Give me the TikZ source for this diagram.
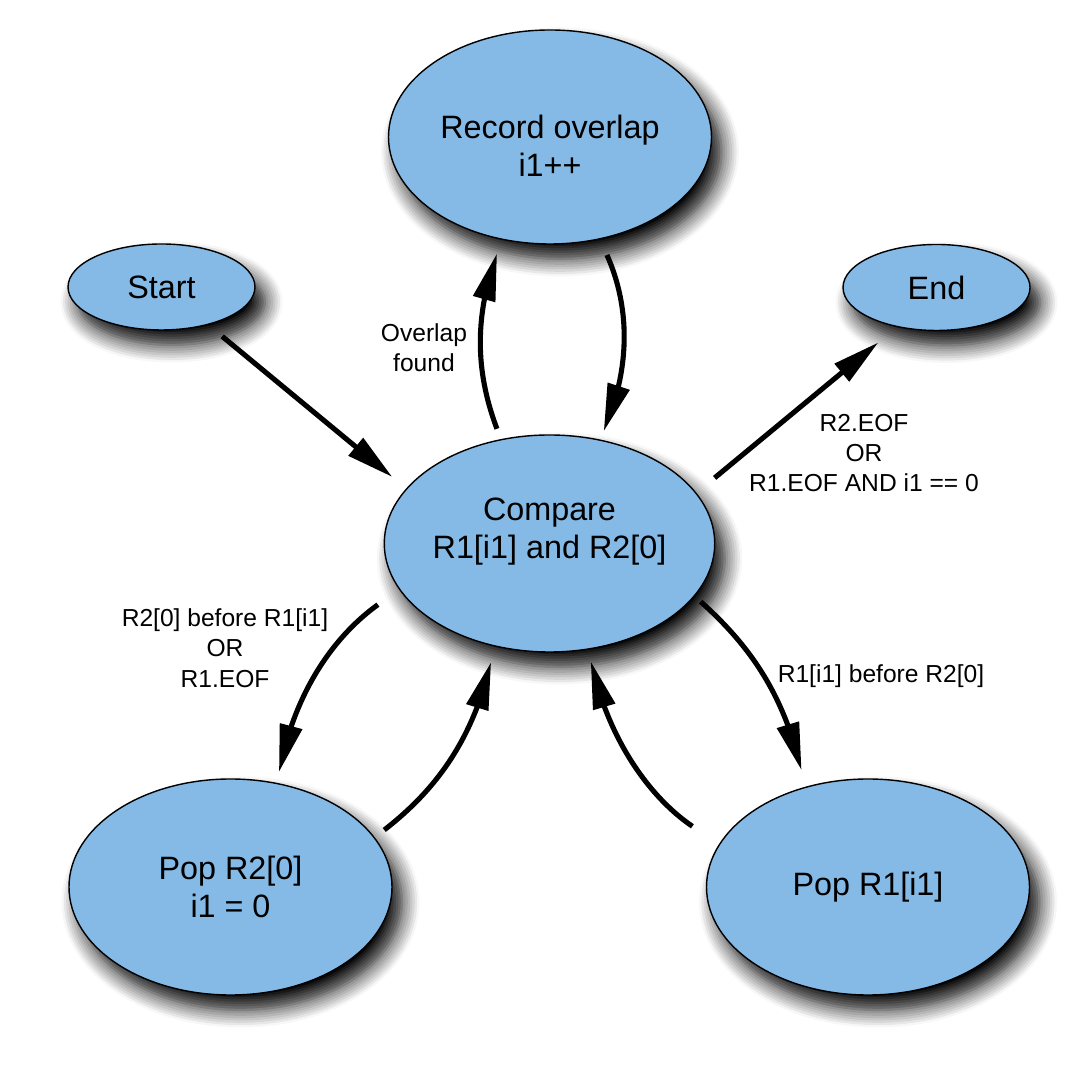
\documentclass[tikz,border=0pt]{standalone}
\usepackage{fontspec}
\setmainfont{Liberation Sans}
\usetikzlibrary{shapes.geometric,arrows.meta,bending,shadows.blur}
\definecolor{stateblue}{RGB}{132,186,229}

\begin{document}
\begin{tikzpicture}[
    state/.style={ellipse, draw=black, line width=0.8pt, fill=stateblue, inner sep=0pt,
        minimum width=6.46cm, minimum height=4.32cm, align=center,
        font=\fontsize{18.4}{21.6}\selectfont,
        blur shadow={shadow xshift=0.2cm, shadow yshift=-0.3cm, shadow blur radius=0.35cm,
            shadow blur steps=8, shadow opacity=100}},
    term/.style={state, minimum width=3.74cm, minimum height=1.72cm},
    cond/.style={align=center, font=\fontsize{14}{17.2}\selectfont},
    flow/.style={line width=2.9pt, -{Triangle[length=0.95cm, width=0.44cm]}}
]
    \useasboundingbox (0,0) rectangle (21.6,21.6);

    % states
    \node[state, minimum height=4.28cm] (rec) at (11.00,18.86) {\mbox{}\\[0.07cm]Record overlap\\i1++};
    \node[term] (start) at (3.23,15.86) {Start};
    \node[term] (end) at (18.73,15.85) {End};
    \node[state, minimum height=4.34cm] (cmp) at (10.99,10.73) {Compare\\R1[i1] and R2[0]\\[-0.14cm]\mbox{}};
    \node[state] (popb) at (4.61,3.86) {Pop R2[0]\\i1 = 0};
    \node[state] (popa) at (17.36,3.86) {Pop R1[i1]};

    % transitions
    \draw[flow, shorten <=0.36cm, shorten >=0.36cm] (start.-39) -- (cmp.159);
    \draw[flow, shorten <=0.22cm, shorten >=0.29cm] (cmp.115) to[bend left=21] (rec.-115);
    \draw[flow, shorten <=0.34cm, shorten >=0.18cm] (rec.-64) to[bend left=24] (cmp.64);
    \draw[flow, shorten <=0.47cm, shorten >=0.48cm] (cmp.19) -- (end.-135);
    \draw[flow, shorten <=0.52cm, shorten >=0.22cm] (cmp.-163) to[bend right=22] (popb.66);
    \draw[flow, shorten <=0.24cm, shorten >=0.32cm] (popb.19) to[bend right=20] (cmp.-118);
    \draw[flow, shorten <=0.16cm, shorten >=0.34cm] (cmp.-20) to[bend left=18] (popa.122);
    \draw[flow, shorten <=0.64cm, shorten >=0.24cm] (popa.164) to[bend left=22] (cmp.-70);

    % conditions
    \node[cond] (found) at (8.48,14.64) {Overlap\\found};
    \node[cond] (eof) at (17.28,12.54) {R2.EOF\\OR\\R1.EOF AND i1 == 0};
    \node[cond] (before2) at (4.50,8.64) {R2[0] before R1[i1]\\OR\\R1.EOF};
    \node[cond] (before1) at (17.62,8.08) {R1[i1] before R2[0]};
\end{tikzpicture}
\end{document}
